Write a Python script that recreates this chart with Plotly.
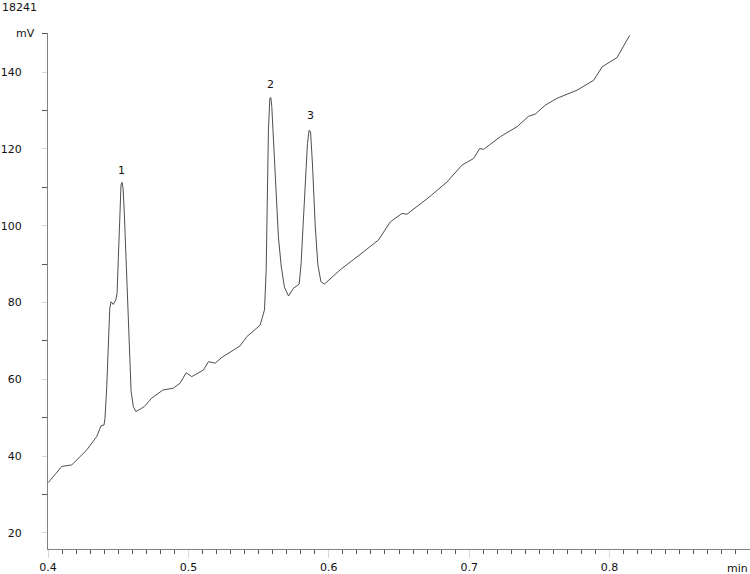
import plotly.graph_objects as go

# retention time (min) and signal (mV)
time_min = [0.4002, 0.4098, 0.4169, 0.4276, 0.4347, 0.4378, 0.4399, 0.4406, 0.4418, 0.4430,
            0.4440, 0.4449, 0.4465, 0.4483, 0.4492, 0.4501, 0.4511, 0.4520, 0.4527, 0.4535,
            0.4544, 0.4556, 0.4568, 0.4579, 0.4592, 0.4608, 0.4625, 0.4656, 0.4686, 0.4739,
            0.4818, 0.4893, 0.4941, 0.4984, 0.5024, 0.5107, 0.5143, 0.5190, 0.5238, 0.5368,
            0.5416, 0.5511, 0.5542, 0.5554, 0.5563, 0.5570, 0.5580, 0.5587, 0.5594, 0.5606,
            0.5623, 0.5641, 0.5661, 0.5684, 0.5713, 0.5748, 0.5789, 0.5803, 0.5817, 0.5832,
            0.5848, 0.5860, 0.5870, 0.5884, 0.5903, 0.5922, 0.5944, 0.5969, 0.6081, 0.6247,
            0.6354, 0.6438, 0.6521, 0.6557, 0.6723, 0.6842, 0.6949, 0.7031, 0.7074, 0.7103,
            0.7222, 0.7341, 0.7423, 0.7471, 0.7542, 0.7626, 0.7768, 0.7887, 0.7947, 0.8053,
            0.8077, 0.8143]
signal_mv = [33.1, 37.3, 37.7, 41.6, 45.1, 47.9, 48.1, 49.9, 57.7, 69.8,
             78.5, 80.2, 79.5, 80.7, 82.4, 91.5, 102.8, 110.6, 111.3, 109.7,
             102.8, 91.5, 78.5, 66.3, 56.8, 52.9, 51.6, 52.2, 52.9, 55.1,
             57.2, 57.7, 59.0, 61.7, 60.7, 62.4, 64.6, 64.2, 65.7, 68.7,
             71.1, 74.1, 78.1, 88.5, 114.5, 124.9, 133.2, 133.4, 131.0, 122.3,
             109.3, 97.1, 89.5, 84.0, 81.7, 83.7, 84.8, 90.2, 100.2, 110.1,
             121.4, 124.9, 124.5, 115.8, 100.2, 89.8, 85.4, 84.8, 88.5, 93.2,
             96.3, 101.0, 103.2, 103.0, 107.7, 111.4, 115.8, 117.5, 120.1, 119.9,
             123.2, 125.8, 128.5, 129.1, 131.4, 133.2, 135.3, 137.9, 141.4, 143.8,
             145.3, 149.6]

peak_names = ["1", "2", "3"]
peak_time = [0.4527, 0.5585, 0.5867]
peak_label_y = [114.5, 136.9, 128.8]

y_ticks = [20, 40, 60, 80, 100, 120, 140]
x_ticks = [0.4, 0.5, 0.6, 0.7, 0.8]

font = "DejaVu Sans"

fig = go.Figure()
fig.add_trace(go.Scatter(x=time_min, y=signal_mv, mode="lines",
                         line=dict(color="#3a3a3a", width=0.9), showlegend=False))

for name, t, yl in zip(peak_names, peak_time, peak_label_y):
    fig.add_annotation(x=t, y=yl, text=name, showarrow=False,
                       font=dict(family=font, size=11, color="#111111"))

fig.add_annotation(xref="paper", yref="paper", x=-0.049, y=1.0, text="mV", showarrow=False,
                   xanchor="left", yanchor="middle", font=dict(family=font, size=11, color="#111111"))
fig.add_annotation(xref="paper", yref="paper", x=1.0, y=-0.021, text="min", showarrow=False,
                   xanchor="right", yanchor="top", font=dict(family=font, size=11, color="#111111"))
fig.add_annotation(xref="paper", yref="paper", x=-0.068, y=1.05, text="18241", showarrow=False,
                   xanchor="left", yanchor="middle", font=dict(family=font, size=11, color="#111111"))

fig.update_xaxes(range=[0.4, 0.9], tickvals=x_ticks, ticktext=[str(v) for v in x_ticks],
                 automargin=False,
                 showgrid=False, zeroline=False, showline=True, linecolor="#808080", linewidth=1,
                 ticks="outside", ticklen=8, tickcolor="#d8d8d8",
                 minor=dict(dtick=0.01, tick0=0.4, ticks="outside", ticklen=4, tickcolor="#555555"),
                 tickfont=dict(family=font, size=11, color="#111111"))
fig.update_yaxes(range=[15.8, 150.2], tickvals=y_ticks, automargin=False,
                 showgrid=False, zeroline=False, showline=True, linecolor="#808080", linewidth=1,
                 ticks="outside", ticklen=5, tickcolor="#d8d8d8", ticklabelstandoff=18,
                 minor=dict(dtick=10, tick0=10, ticks="outside", ticklen=5, tickcolor="#555555"),
                 tickfont=dict(family=font, size=11, color="#111111"))

fig.update_layout(width=750, height=574, plot_bgcolor="white", paper_bgcolor="white",
                  margin=dict(l=48, r=0, t=33, b=25))

# page has a default 8px body margin; drop it so the figure sits at the window corner
fig.write_html("out.html", config={"displayModeBar": False},
               post_script="document.body.style.margin='0';")
